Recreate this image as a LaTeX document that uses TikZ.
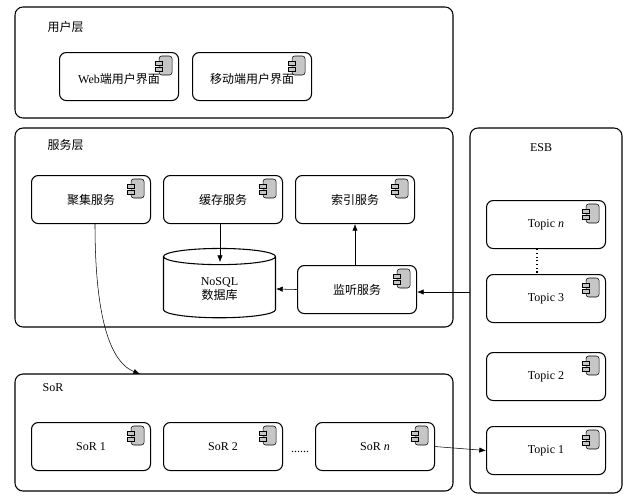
\documentclass[tikz,border=0pt]{standalone}
\usepackage{fontspec}
\setmainfont{Liberation Serif}
\newfontfamily\cjk{Noto Sans CJK SC}
\usetikzlibrary{shapes.geometric,arrows.meta}
\begin{document}
\begin{tikzpicture}[x=0.75pt,y=-0.75pt,
 layer/.style={draw,thick,rounded corners=6pt},
 comp/.style={draw,thick,rounded corners=5pt,minimum width=89.25pt,minimum height=36pt,font=\small,inner sep=2pt},
 arr/.style={-{Latex[length=5pt,width=4pt]},thin},
 lbl/.style={font=\cjk\small,anchor=west}]
\useasboundingbox (0,0) rectangle (634,500);
\newcommand{\icon}[1]{\begin{scope}[shift={(#1)}]
 \draw[fill=gray!45,rounded corners=2pt] (-20,4) rectangle (-7,23);
 \draw[fill=gray!45] (-24,9) rectangle (-17,13);
 \draw[fill=gray!45] (-24,15) rectangle (-17,19);
\end{scope}}
% layers
\draw[layer] (15,7) rectangle (453,118);
\draw[layer] (15,128) rectangle (453,327);
\draw[layer] (15,374) rectangle (453,491);
\draw[layer] (470,128) rectangle (622,493);
\node[lbl] (ul) at (43,27) {用户层};
\node[lbl] (sl) at (43,145) {服务层};
\node[font=\small,anchor=west] (sor) at (38,388) {SoR};
\node[font=\small] (esb) at (541,148) {ESB};
% user
\node[comp,anchor=north west] (web) at (59,52) {\raisebox{-11pt}{Web{\cjk 端用户界面}}};
\node[comp,anchor=north west] (mob) at (192,52) {\raisebox{-11pt}{\cjk 移动端用户界面}};
% service
\node[comp,anchor=north west] (agg) at (31,175) {\cjk 聚集服务};
\node[comp,anchor=north west] (cache) at (163,175) {\cjk 缓存服务};
\node[comp,anchor=north west] (idx) at (295,175) {\cjk 索引服务};
\node[comp,anchor=north west] (lis) at (297,265) {\cjk 监听服务};
\node[draw,thick,cylinder,shape border rotate=90,aspect=0.35,minimum width=84pt,minimum height=52pt,align=center,font=\small] (db) at (219.5,289) {NoSQL\\{\cjk 数据库}};
% sor
\node[comp,anchor=north west] (s1) at (31,422) {SoR 1};
\node[comp,anchor=north west] (s2) at (163,422) {SoR 2};
\node[comp,anchor=north west] (sn) at (315,422) {SoR \textit{n}};
\node[font=\small] (dots) at (300,452) {......};
% topics
\node[comp,anchor=north west] (tn) at (486,200) {Topic \textit{n}};
\node[comp,anchor=north west] (t3) at (486,274) {Topic 3};
\node[comp,anchor=north west] (t2) at (486,352) {Topic 2};
\node[comp,anchor=north west] (t1) at (486,426) {Topic 1};
\foreach \n in {web,mob,agg,cache,idx,lis,s1,s2,sn,tn,t3,t2,t1}{\icon{\n.north east}}
\draw[dotted,thick] (tn.south -| 537,0) -- (t3.north -| 537,0);
% arrows
\coordinate (sortop) at (140,374);
\draw[arr] (agg.south -| 95,0) .. controls (95,300) and (105,360) .. (sortop);
\draw[arr] (cache.south -| 220,0) -- (220,262);
\draw[arr] (lis.west) -- (db.east);
\draw[arr] (lis.north -| 355,0) -- (idx.south -| 355,0);
\draw[arr] (470,292) -- (lis.east |- 0,292);
\draw[arr] (sn.east) -- (t1.west);
\end{tikzpicture}
\end{document}
